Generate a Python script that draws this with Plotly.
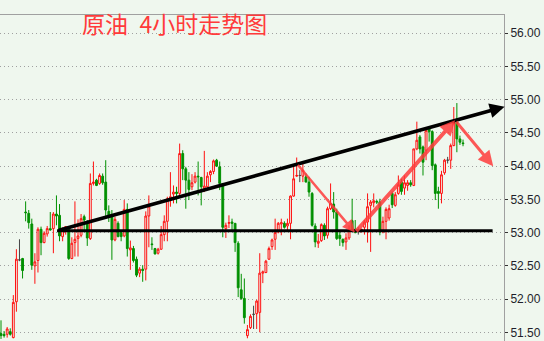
import plotly.graph_objects as go

# ---- data ----
opens = [51.48, 51.47, 51.47, 51.51, 51.42, 51.96, 52.59, 52.61, 53.31, 53.29,
         53.13, 52.50, 52.58, 53.05, 52.85, 52.98, 53.06, 53.06, 53.28, 53.26,
         52.94, 53.05, 53.07, 52.61, 52.85, 52.91, 52.96, 53.24, 53.15, 52.91,
         53.74, 53.79, 53.74, 53.85, 53.76, 53.32, 53.26, 52.89, 53.14, 53.00,
         52.95, 53.35, 52.74, 52.76, 52.60, 52.39, 52.45, 52.45, 53.25, 52.83,
         52.76, 52.69, 52.75, 52.97, 53.17, 53.49, 53.58, 53.61, 53.59, 54.19,
         53.96, 53.79, 53.69, 53.76, 53.85, 53.83, 53.66, 53.69, 53.87, 53.92,
         54.09, 53.99, 53.74, 53.06, 53.14, 53.16, 53.14, 52.84, 52.14, 52.01,
         51.45, 51.57, 51.77, 51.78, 51.80, 52.39, 52.40, 52.60, 52.79, 52.90,
         53.01, 53.13, 53.14, 53.10, 53.14, 53.55, 53.85, 53.86, 53.85, 53.84,
         53.76, 53.59, 53.10, 52.84, 52.88, 53.11, 52.96, 53.36, 53.43, 53.31,
         52.96, 52.90, 52.86, 52.92, 53.18, 53.05, 53.04, 53.03, 53.08, 53.16,
         53.41, 53.45, 53.47, 53.46, 53.01, 53.17, 53.22, 53.59, 53.41, 53.59,
         53.76, 53.67, 53.71, 53.75, 53.71, 54.26, 54.44, 54.29, 54.24, 54.56,
         54.52, 54.02, 53.62, 53.59, 53.90, 54.09, 54.09, 54.31, 54.66, 54.41,
         54.35]
highs = [51.68, 51.52, 51.58, 51.56, 52.06, 52.75, 52.90, 52.62, 53.47, 53.34,
         53.21, 52.69, 53.08, 53.09, 53.02, 53.10, 53.31, 53.31, 53.56, 53.43,
         53.08, 53.10, 53.07, 52.93, 53.47, 53.20, 53.28, 53.27, 53.19, 53.89,
         54.07, 53.81, 53.89, 53.89, 54.09, 53.41, 53.34, 53.24, 53.17, 53.02,
         53.49, 53.44, 52.88, 52.80, 52.64, 52.48, 52.51, 53.32, 53.56, 52.93,
         52.77, 52.77, 53.10, 53.26, 53.54, 53.91, 53.71, 53.69, 54.34, 54.24,
         53.99, 53.91, 53.88, 53.91, 54.07, 53.84, 54.23, 53.91, 53.94, 54.10,
         54.11, 54.07, 53.74, 53.15, 53.26, 53.21, 53.14, 52.87, 52.38, 52.31,
         51.61, 51.77, 51.90, 51.99, 52.69, 52.43, 52.59, 52.79, 52.91, 53.21,
         53.16, 53.21, 53.17, 53.21, 53.56, 54.01, 54.13, 53.94, 54.06, 53.89,
         53.84, 53.61, 53.14, 52.98, 53.14, 53.14, 53.39, 53.74, 53.61, 53.36,
         53.04, 52.91, 52.99, 53.11, 53.51, 53.19, 53.08, 53.06, 53.19, 53.59,
         53.49, 53.59, 53.49, 53.51, 53.24, 53.38, 53.42, 53.62, 53.61, 53.86,
         53.81, 53.86, 53.79, 53.79, 54.26, 54.67, 54.47, 54.31, 54.59, 54.59,
         54.54, 54.04, 53.69, 53.93, 54.11, 54.14, 54.34, 54.89, 54.95, 54.46,
         54.40]
lows = [51.40, 51.42, 51.42, 51.45, 51.41, 51.81, 52.57, 52.31, 53.17, 53.06,
        52.44, 52.23, 52.40, 52.66, 52.84, 52.94, 53.03, 52.69, 53.11, 52.87,
        52.87, 52.97, 52.59, 52.60, 52.64, 52.64, 52.93, 53.04, 52.80, 52.89,
        53.71, 53.70, 53.72, 53.72, 53.21, 53.16, 52.59, 52.87, 52.93, 52.87,
        52.93, 52.64, 52.44, 52.55, 52.33, 52.33, 52.26, 52.28, 52.78, 52.74,
        52.67, 52.67, 52.74, 52.87, 52.87, 53.39, 53.44, 53.44, 53.54, 53.79,
        53.36, 53.49, 53.64, 53.74, 53.56, 53.41, 53.61, 53.66, 53.76, 53.88,
        53.99, 53.64, 52.93, 52.92, 53.07, 53.04, 52.71, 52.03, 51.99, 51.63,
        51.41, 51.55, 51.55, 51.55, 51.50, 52.24, 52.39, 52.59, 52.74, 52.74,
        52.99, 52.96, 53.06, 53.01, 52.90, 53.54, 53.84, 53.76, 53.76, 53.76,
        53.54, 53.09, 52.78, 52.77, 52.86, 52.89, 52.91, 53.34, 53.21, 52.89,
        52.80, 52.79, 52.74, 52.89, 53.02, 52.99, 52.97, 53.00, 52.97, 52.85,
        52.71, 53.38, 53.43, 52.96, 52.99, 52.90, 53.18, 53.37, 53.39, 53.57,
        53.57, 53.57, 53.63, 53.69, 53.70, 54.24, 54.19, 53.86, 54.09, 54.37,
        53.94, 53.49, 53.36, 53.44, 53.87, 54.04, 53.96, 54.30, 54.21, 54.32,
        54.30]
closes = [51.45, 51.45, 51.55, 51.47, 51.95, 52.60, 52.59, 52.43, 53.30, 53.15,
          52.51, 52.56, 53.05, 52.85, 52.99, 53.06, 53.04, 53.28, 53.25, 52.95,
          53.05, 53.09, 52.61, 52.84, 52.90, 52.95, 53.21, 53.19, 52.92, 53.74,
          53.76, 53.71, 53.86, 53.75, 53.34, 53.25, 52.89, 53.20, 52.94, 52.94,
          53.35, 52.76, 52.77, 52.58, 52.36, 52.45, 52.43, 53.25, 53.40, 52.82,
          52.68, 52.75, 52.97, 53.17, 53.51, 53.54, 53.61, 53.59, 54.19, 53.96,
          53.79, 53.65, 53.75, 53.85, 53.84, 53.69, 53.70, 53.85, 53.92, 54.08,
          54.00, 53.74, 53.08, 53.11, 53.15, 53.14, 52.85, 52.17, 52.01, 51.72,
          51.54, 51.74, 51.77, 51.97, 52.39, 52.41, 52.57, 52.76, 52.89, 53.00,
          53.14, 53.15, 53.08, 53.14, 53.55, 53.81, 53.86, 53.86, 53.94, 53.76,
          53.61, 53.11, 52.86, 52.87, 53.12, 52.95, 53.36, 53.44, 53.31, 52.91,
          52.91, 52.85, 52.92, 53.04, 53.03, 53.00, 53.04, 53.05, 53.16, 53.39,
          53.46, 53.48, 53.46, 53.01, 53.17, 53.35, 53.36, 53.42, 53.57, 53.72,
          53.62, 53.75, 53.75, 53.72, 54.26, 54.39, 54.26, 54.06, 54.54, 54.52,
          54.01, 53.59, 53.59, 53.87, 54.09, 54.09, 54.31, 54.66, 54.41, 54.36,
          54.34]

# drawn lines (bar index, price)
trend_x = [18.3, 163.5]
trend_y = [53.03, 54.895]
support_x = [18.2, 159.6]
support_y = [53.03, 53.03]
zigzag_x = [96.0, 114.9, 147.4, 159.8]
zigzag_y = [54.04, 53.00, 54.69, 54.00]

y_ticks = [51.5, 52.0, 52.5, 53.0, 53.5, 54.0, 54.5, 55.0, 55.5, 56.0]
title_text = "原油\u20024小时走势图"

BG = "#eff7ee"
RED = "#ff1010"
GREEN = "#009000"

n = len(closes)
idx = list(range(n))
norm = [i for i in idx if opens[i] != closes[i]]
doji = [i for i in idx if opens[i] == closes[i]]

fig = go.Figure()
fig.add_trace(go.Candlestick(
    x=norm,
    open=[opens[i] for i in norm], high=[highs[i] for i in norm],
    low=[lows[i] for i in norm], close=[closes[i] for i in norm],
    increasing=dict(line=dict(color=RED, width=1), fillcolor=BG),
    decreasing=dict(line=dict(color=GREEN, width=1), fillcolor=GREEN),
    whiskerwidth=0, showlegend=False, hoverinfo="skip"))
fig.add_trace(go.Candlestick(
    x=doji,
    open=[opens[i] for i in doji], high=[highs[i] for i in doji],
    low=[lows[i] for i in doji], close=[closes[i] for i in doji],
    increasing=dict(line=dict(color="#444444", width=1), fillcolor="#444444"),
    decreasing=dict(line=dict(color="#444444", width=1), fillcolor="#444444"),
    whiskerwidth=0, showlegend=False, hoverinfo="skip"))

fig.add_trace(go.Scatter(x=support_x, y=support_y, mode="lines",
                         line=dict(color="black", width=3), showlegend=False,
                         hoverinfo="skip"))

annotations = []
annotations.append(dict(x=trend_x[1], y=trend_y[1], ax=trend_x[0], ay=trend_y[0],
                        xref="x", yref="y", axref="x", ayref="y", text="",
                        showarrow=True, arrowhead=2, arrowsize=0.85, arrowwidth=3.5,
                        arrowcolor="black", standoff=0, startstandoff=0))
zz_widths = [2.5, 4, 3]
zz_sizes = [1.0, 0.75, 1.0]
for k in range(3):
    annotations.append(dict(x=zigzag_x[k + 1], y=zigzag_y[k + 1],
                            ax=zigzag_x[k], ay=zigzag_y[k],
                            xref="x", yref="y", axref="x", ayref="y", text="",
                            showarrow=True, arrowhead=2, arrowsize=zz_sizes[k],
                            arrowwidth=zz_widths[k],
                            arrowcolor="rgba(255,60,60,0.85)", standoff=0))
annotations.append(dict(x=80 / 504, y=0.975, xref="paper", yref="paper",
                        xanchor="left", yanchor="middle", showarrow=False,
                        text=title_text,
                        font=dict(family="Noto Sans CJK SC", size=23, color="#ff3a3a")))

fig.update_layout(
    width=544, height=341,
    margin=dict(l=0, r=40, t=15, b=0),
    paper_bgcolor=BG, plot_bgcolor=BG,
    boxgap=0.15,
    annotations=annotations,
    xaxis=dict(range=[-0.325, 163.3], showticklabels=False, ticks="",
               showgrid=False, zeroline=False, showline=True, side="top",
               linecolor="#a0a0a0", linewidth=1,
               rangeslider=dict(visible=False), fixedrange=True),
    yaxis=dict(range=[51.369, 56.275], side="right", tickvals=y_ticks,
               tickformat=".2f", showgrid=True, gridcolor="#a0a0a0",
               griddash="1px,3px", gridwidth=1, zeroline=False,
               showline=True, linecolor="#a0a0a0", linewidth=1,
               ticks="outside", ticklen=3, tickcolor="#333333",
               tickfont=dict(family="Liberation Sans", size=12, color="#1e1e2a"),
               fixedrange=True),
)

fig.write_html("out.html")
